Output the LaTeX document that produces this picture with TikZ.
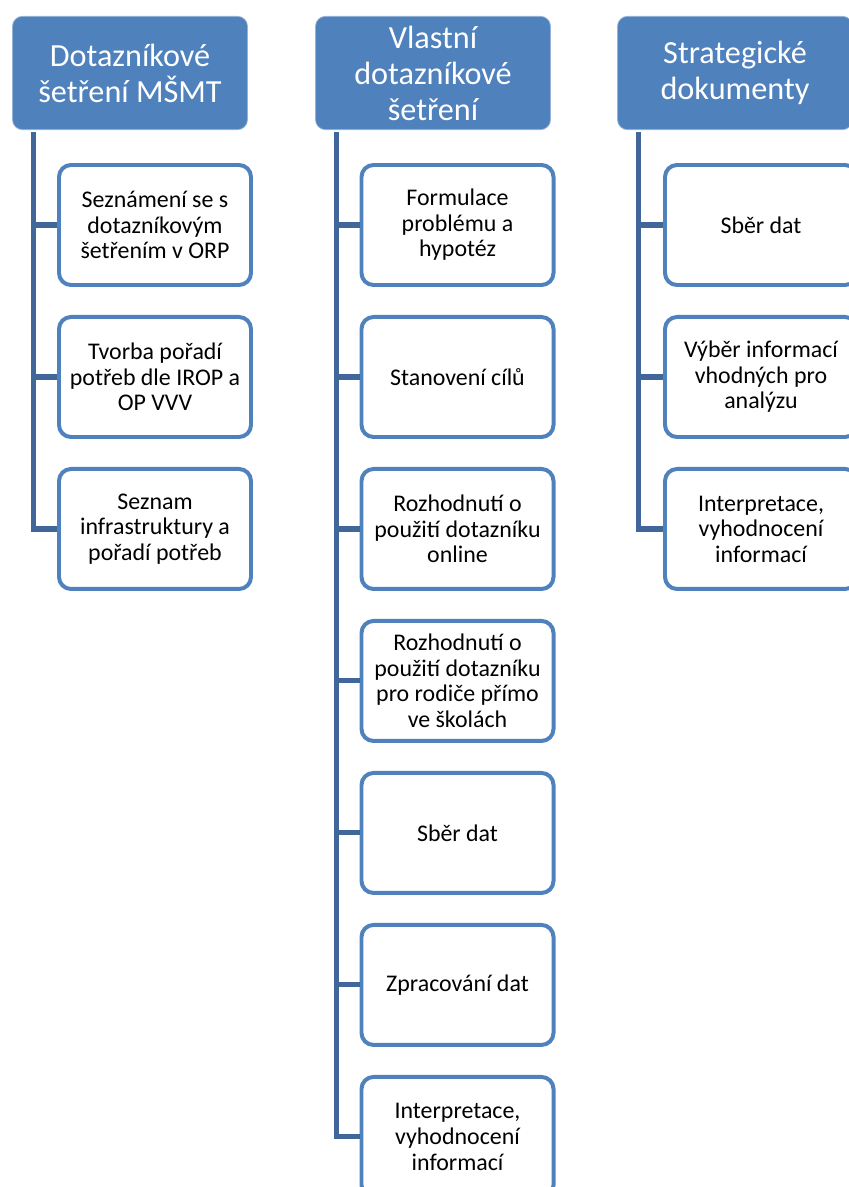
\documentclass[tikz,border=0pt]{standalone}
\usepackage{fontspec}
\setmainfont{Carlito}
\usepackage{tikz}
\usetikzlibrary{positioning}

\definecolor{accblue}{RGB}{79,129,189}
\definecolor{linkblue}{RGB}{65,103,154}

\tikzset{
  head/.style={fill=accblue, draw=accblue!60!white, line width=0.6pt, rounded corners=0.3cm,
    minimum width=7.05cm, minimum height=3.4cm, align=center, text=white,
    font=\fontsize{27.5}{30.7}\selectfont, inner sep=0pt},
  item/.style={fill=white, draw=accblue, line width=3.4pt, rounded corners=0.36cm,
    minimum width=5.76cm, minimum height=3.6cm, align=center, text=black,
    font=\fontsize{20.4}{21.8}\selectfont, inner sep=0pt},
  link/.style={draw=linkblue, line width=4.3pt}
}

\begin{document}
\begin{tikzpicture}[x=0.03cm, y=-0.03cm]
                \useasboundingbox (0,0) rectangle (849,1187);
                % headers
                \node [head] (msmt) at (130,73) {Dotazníkové\\šetření MŠMT};
                \node [head] (vlast) at (433,73) {Vlastní\\dotazníkové\\šetření};
                \node [head] (strat) at (735,73) {Strategické\\dokumenty};
                % column 1
                \node [item] (m1) at (155,225) {Seznámení se s\\dotazníkovým\\šetřením v ORP};
                \node [item, below = 0.84cm of m1] (m2) {Tvorba pořadí\\potřeb dle IROP a\\OP VVV};
                \node [item, below = 0.84cm of m2] (m3) {Seznam\\infrastruktury a\\pořadí potřeb};
                % column 2
                \node [item] (v1) at (457.5,225) {Formulace\\problému a\\hypotéz};
                \node [item, below = 0.84cm of v1] (v2) {Stanovení cílů};
                \node [item, below = 0.84cm of v2] (v3) {Rozhodnutí o\\použití dotazníku\\online};
                \node [item, below = 0.84cm of v3] (v4) {Rozhodnutí o\\použití dotazníku\\pro rodiče přímo\\ve školách};
                \node [item, below = 0.84cm of v4] (v5) {Sběr dat};
                \node [item, below = 0.84cm of v5] (v6) {Zpracování dat};
                \node [item, below = 0.84cm of v6] (v7) {Interpretace,\\vyhodnocení\\informací};
                % column 3
                \node [item] (s1) at (761,225) {Sběr dat};
                \node [item, below = 0.84cm of s1] (s2) {Výběr informací\\vhodných pro\\analýzu};
                \node [item, below = 0.84cm of s2] (s3) {Interpretace,\\vyhodnocení\\informací};
                % connectors
                \draw [link] ([xshift=0.63cm, yshift=-2pt]msmt.south west) |- (m1.west)
                    ([xshift=0.63cm, yshift=-2pt]msmt.south west) |- (m2.west)
                    ([xshift=0.63cm, yshift=-2pt]msmt.south west) |- (m3.west);
                \draw [link] ([xshift=0.63cm, yshift=-2pt]vlast.south west) |- (v1.west)
                    ([xshift=0.63cm, yshift=-2pt]vlast.south west) |- (v2.west)
                    ([xshift=0.63cm, yshift=-2pt]vlast.south west) |- (v3.west)
                    ([xshift=0.63cm, yshift=-2pt]vlast.south west) |- (v4.west)
                    ([xshift=0.63cm, yshift=-2pt]vlast.south west) |- (v5.west)
                    ([xshift=0.63cm, yshift=-2pt]vlast.south west) |- (v6.west)
                    ([xshift=0.63cm, yshift=-2pt]vlast.south west) |- (v7.west);
                \draw [link] ([xshift=0.63cm, yshift=-2pt]strat.south west) |- (s1.west)
                    ([xshift=0.63cm, yshift=-2pt]strat.south west) |- (s2.west)
                    ([xshift=0.63cm, yshift=-2pt]strat.south west) |- (s3.west);
            \end{tikzpicture}
\end{document}
